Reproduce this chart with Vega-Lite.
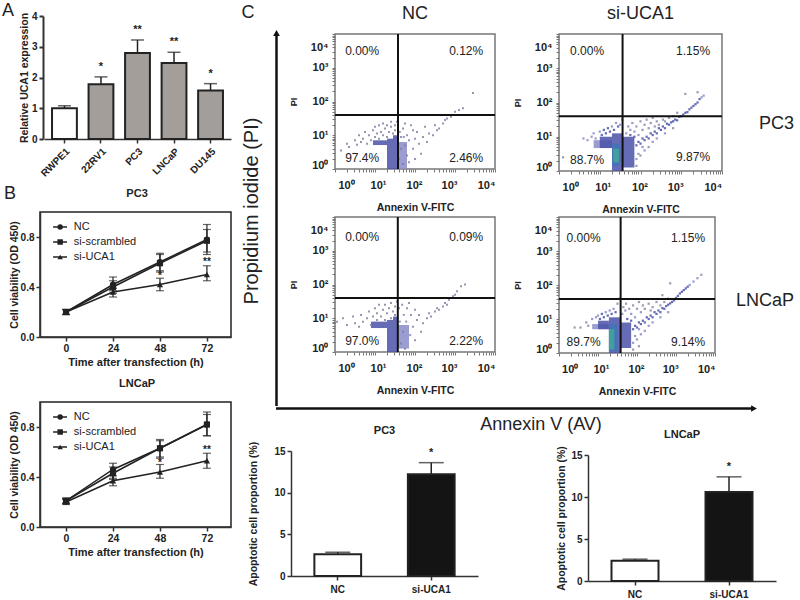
{
"$schema":"https://vega.github.io/schema/vega-lite/v6.json",
"padding":{"left":2,"top":2,"right":0,"bottom":0},
"params":[{"name":"mt","value":[0,0.3,0.48,0.6,0.7,0.78,0.85,0.9,0.95,1,1.3,1.48,1.6,1.7,1.78,1.85,1.9,1.95,2,2.3,2.48,2.6,2.7,2.78,2.85,2.9,2.95,3,3.3,3.48,3.6,3.7,3.78,3.85,3.9,3.95,4]}],
"config":{"font":"Liberation Sans","view":{"stroke":null},"title":{"font":"Liberation Sans","color":"#222"},
"axis":{"grid":false,"labelColor":"#222","titleColor":"#222","labelFontWeight":"bold","titleFontWeight":"bold","labelFontSize":10,"titleFontSize":10.5,"domainColor":"#333","tickColor":"#333","domainWidth":1.5,"tickWidth":1.5,"tickSize":4,"labelPadding":2},
"text":{"font":"Liberation Sans","color":"#222"}},
"datasets":{
"one":[{"n":1}],
"c1":[{"x":0.95,"x2":1.3,"y":0.71,"y2":0.85,"d":2},{"x":1.3,"x2":1.45,"y":0,"y2":0.9,"d":2},{"x":1.45,"x2":1.58,"y":0,"y2":1.0,"d":2},{"x":1.58,"x2":1.8,"y":0,"y2":0.8,"d":1}],
"c2":[{"x":0.9,"x2":1.3,"y":0.71,"y2":0.9,"d":2},{"x":1.3,"x2":1.45,"y":0,"y2":0.95,"d":2},{"x":1.45,"x2":1.57,"y":0,"y2":1.05,"d":2},{"x":1.57,"x2":1.85,"y":0.1,"y2":0.8,"d":1}],
"c3":[{"x":0.85,"x2":1.3,"y":0.67,"y2":0.9,"d":1},{"x":1.0,"x2":1.3,"y":0.67,"y2":1.0,"d":2},{"x":1.3,"x2":1.56,"y":0,"y2":1.1,"d":2},{"x":1.3,"x2":1.5,"y":0.15,"y2":0.8,"d":3},{"x":1.33,"x2":1.47,"y":0.25,"y2":0.65,"d":4},{"x":1.56,"x2":1.85,"y":0.1,"y2":1.0,"d":2}],
"c4":[{"x":0.85,"x2":1.28,"y":0.7,"y2":0.85,"d":1},{"x":1.0,"x2":1.28,"y":0.7,"y2":0.95,"d":2},{"x":1.28,"x2":1.58,"y":0,"y2":1.05,"d":2},{"x":1.28,"x2":1.5,"y":0.05,"y2":0.85,"d":3},{"x":1.28,"x2":1.42,"y":0.1,"y2":0.7,"d":4},{"x":1.58,"x2":1.85,"y":0.15,"y2":0.9,"d":2}],
"p1":[{"x":0.15,"y":0.55},{"x":0.3,"y":0.75},{"x":0.35,"y":0.65},{"x":0.5,"y":0.85},{"x":0.55,"y":0.72},{"x":0.6,"y":1.0},{"x":0.65,"y":0.8},{"x":0.7,"y":0.9},{"x":0.75,"y":1.1},{"x":0.8,"y":0.75},{"x":0.85,"y":1.0},{"x":0.9,"y":0.85},{"x":0.95,"y":1.15},{"x":1.0,"y":0.95},{"x":1.0,"y":1.25},{"x":1.05,"y":1.05},{"x":1.1,"y":0.9},{"x":1.1,"y":1.3},{"x":1.15,"y":1.1},{"x":1.2,"y":1.0},{"x":1.2,"y":1.35},{"x":1.25,"y":1.2},{"x":1.3,"y":0.95},{"x":1.3,"y":1.3},{"x":1.35,"y":1.1},{"x":1.4,"y":1.25},{"x":1.4,"y":1.4},{"x":1.45,"y":1.05},{"x":1.5,"y":1.3},{"x":1.5,"y":1.15},{"x":1.55,"y":1.4},{"x":1.6,"y":0.3},{"x":1.65,"y":0.6},{"x":1.65,"y":0.95},{"x":1.7,"y":1.2},{"x":1.7,"y":0.15},{"x":1.75,"y":0.7},{"x":1.75,"y":1.35},{"x":1.8,"y":0.4},{"x":1.8,"y":1.0},{"x":1.85,"y":0.85},{"x":1.85,"y":0.2},{"x":1.9,"y":1.3},{"x":1.95,"y":0.6},{"x":2.0,"y":0.9},{"x":2.0,"y":0.3},{"x":2.05,"y":1.1},{"x":2.1,"y":0.75},{"x":2.2,"y":0.95},{"x":2.25,"y":1.25},{"x":2.3,"y":0.8},{"x":2.35,"y":1.05},{"x":2.45,"y":1.0},{"x":2.5,"y":1.3},{"x":2.55,"y":1.15},{"x":2.6,"y":1.2},{"x":2.7,"y":1.35},{"x":2.75,"y":1.45},{"x":2.8,"y":1.5},{"x":2.9,"y":1.55},{"x":3.0,"y":1.7},{"x":3.1,"y":1.75},{"x":3.2,"y":1.8},{"x":3.45,"y":2.25},{"x":2.15,"y":0.45},{"x":1.72,"y":0.95},{"x":1.62,"y":1.1},{"x":1.95,"y":1.15}],
"p2":[{"x":0.05,"y":0.9},{"x":0.2,"y":1.0},{"x":0.3,"y":0.8},{"x":0.45,"y":1.05},{"x":0.5,"y":0.85},{"x":0.6,"y":0.75},{"x":0.65,"y":1.1},{"x":0.7,"y":0.9},{"x":0.8,"y":1.0},{"x":0.85,"y":1.2},{"x":0.9,"y":0.8},{"x":0.95,"y":1.05},{"x":1.0,"y":1.3},{"x":1.05,"y":0.95},{"x":1.05,"y":1.15},{"x":1.1,"y":1.4},{"x":1.15,"y":1.05},{"x":1.2,"y":1.25},{"x":1.25,"y":0.95},{"x":1.25,"y":1.4},{"x":1.3,"y":1.15},{"x":1.35,"y":1.3},{"x":1.4,"y":1.0},{"x":1.4,"y":1.45},{"x":1.45,"y":1.2},{"x":1.5,"y":1.35},{"x":1.5,"y":1.1},{"x":1.55,"y":1.5},{"x":1.6,"y":1.3},{"x":1.62,"y":0.9},{"x":1.65,"y":0.25},{"x":1.68,"y":1.4},{"x":1.7,"y":0.6},{"x":1.72,"y":1.1},{"x":1.75,"y":0.1},{"x":1.78,"y":0.9},{"x":1.8,"y":1.3},{"x":1.85,"y":1.45},{"x":1.88,"y":0.5},{"x":1.9,"y":1.1},{"x":1.95,"y":0.75},{"x":2.0,"y":1.25},{"x":2.0,"y":0.35},{"x":2.05,"y":0.95},{"x":2.1,"y":1.1},{"x":2.15,"y":0.6},{"x":2.2,"y":0.85},{"x":2.3,"y":1.0},{"x":2.35,"y":1.15},{"x":2.4,"y":1.05},{"x":2.5,"y":1.2},{"x":2.55,"y":1.3},{"x":2.6,"y":1.25},{"x":2.7,"y":1.35},{"x":2.75,"y":1.45},{"x":2.8,"y":1.4},{"x":2.85,"y":1.55},{"x":2.95,"y":1.65},{"x":3.0,"y":1.7},{"x":3.05,"y":1.8},{"x":3.15,"y":1.95},{"x":3.25,"y":2.0}],
"p3":[{"x":1.9,"y":0.75,"d":2},{"x":1.95,"y":0.85,"d":2},{"x":2.0,"y":0.8,"d":2},{"x":2.05,"y":0.95,"d":2},{"x":2.1,"y":0.9,"d":2},{"x":2.15,"y":1.0,"d":2},{"x":2.2,"y":0.95,"d":2},{"x":2.25,"y":1.1,"d":2},{"x":2.3,"y":1.05,"d":2},{"x":2.35,"y":1.15,"d":2},{"x":2.4,"y":1.1,"d":2},{"x":2.45,"y":1.25,"d":2},{"x":2.5,"y":1.2,"d":2},{"x":2.55,"y":1.3,"d":2},{"x":2.6,"y":1.25,"d":2},{"x":2.65,"y":1.38,"d":2},{"x":2.7,"y":1.35,"d":2},{"x":2.75,"y":1.42,"d":2},{"x":2.8,"y":1.45,"d":2},{"x":2.85,"y":1.5,"d":2},{"x":2.9,"y":1.48,"d":2},{"x":2.95,"y":1.58,"d":2},{"x":3.0,"y":1.6,"d":2},{"x":3.05,"y":1.65,"d":2},{"x":3.1,"y":1.7,"d":2},{"x":3.15,"y":1.72,"d":2},{"x":3.2,"y":1.8,"d":2},{"x":3.25,"y":1.85,"d":2},{"x":3.3,"y":1.9,"d":2},{"x":3.35,"y":1.95,"d":2},{"x":3.4,"y":2.0,"d":2},{"x":3.45,"y":2.1,"d":2},{"x":3.5,"y":2.15,"d":1},{"x":3.55,"y":2.2,"d":1},{"x":1.65,"y":1.1,"d":1},{"x":1.7,"y":1.3,"d":1},{"x":1.75,"y":1.2,"d":1},{"x":1.8,"y":1.4,"d":0},{"x":1.85,"y":1.15,"d":1},{"x":1.9,"y":1.3,"d":0},{"x":1.95,"y":1.05,"d":1},{"x":2.0,"y":1.45,"d":0},{"x":2.05,"y":1.2,"d":0},{"x":2.1,"y":1.35,"d":0},{"x":2.15,"y":1.5,"d":0},{"x":2.2,"y":1.25,"d":0},{"x":2.25,"y":1.4,"d":0},{"x":2.3,"y":1.55,"d":0},{"x":2.35,"y":1.3,"d":0},{"x":2.4,"y":1.45,"d":0},{"x":2.45,"y":1.35,"d":0},{"x":2.55,"y":1.5,"d":0},{"x":2.6,"y":1.45,"d":0},{"x":2.7,"y":1.55,"d":0},{"x":2.8,"y":1.6,"d":0},{"x":2.9,"y":1.7,"d":0},{"x":0.6,"y":0.95,"d":1},{"x":0.7,"y":0.9,"d":1},{"x":0.8,"y":1.0,"d":1},{"x":0.85,"y":1.1,"d":1},{"x":0.9,"y":0.95,"d":1},{"x":1.0,"y":1.15,"d":1},{"x":1.05,"y":1.05,"d":2},{"x":1.1,"y":1.2,"d":2},{"x":1.15,"y":1.1,"d":2},{"x":1.2,"y":1.25,"d":2},{"x":1.25,"y":1.15,"d":2},{"x":1.3,"y":1.3,"d":1},{"x":1.35,"y":1.2,"d":2},{"x":1.4,"y":1.4,"d":1},{"x":1.45,"y":1.3,"d":2},{"x":1.5,"y":1.35,"d":1},{"x":1.55,"y":1.5,"d":1},{"x":0.1,"y":0.4,"d":0},{"x":1.9,"y":0.35,"d":1},{"x":1.95,"y":0.5,"d":1},{"x":2.0,"y":0.45,"d":0},{"x":2.1,"y":0.6,"d":1},{"x":2.05,"y":0.7,"d":1},{"x":2.2,"y":0.7,"d":1},{"x":2.3,"y":0.85,"d":1},{"x":2.4,"y":0.95,"d":1},{"x":2.6,"y":1.1,"d":1},{"x":2.8,"y":1.25,"d":0},{"x":1.9,"y":0.15,"d":0},{"x":1.75,"y":1.05,"d":2},{"x":1.85,"y":1.0,"d":2},{"x":3.1,"y":2.25,"d":0},{"x":3.4,"y":2.3,"d":0}],
"p4":[{"x":1.9,"y":0.7,"d":2},{"x":1.95,"y":0.8,"d":2},{"x":2.0,"y":0.75,"d":2},{"x":2.05,"y":0.9,"d":2},{"x":2.1,"y":0.85,"d":2},{"x":2.15,"y":0.95,"d":2},{"x":2.2,"y":0.9,"d":2},{"x":2.25,"y":1.05,"d":2},{"x":2.3,"y":1.0,"d":2},{"x":2.35,"y":1.1,"d":2},{"x":2.4,"y":1.05,"d":2},{"x":2.45,"y":1.2,"d":2},{"x":2.5,"y":1.15,"d":2},{"x":2.55,"y":1.25,"d":2},{"x":2.6,"y":1.2,"d":2},{"x":2.65,"y":1.32,"d":2},{"x":2.7,"y":1.3,"d":2},{"x":2.75,"y":1.38,"d":2},{"x":2.8,"y":1.42,"d":2},{"x":2.85,"y":1.46,"d":2},{"x":2.9,"y":1.5,"d":2},{"x":2.95,"y":1.55,"d":2},{"x":3.0,"y":1.62,"d":2},{"x":3.05,"y":1.68,"d":2},{"x":3.1,"y":1.75,"d":2},{"x":3.15,"y":1.8,"d":2},{"x":3.2,"y":1.85,"d":2},{"x":3.25,"y":1.9,"d":2},{"x":3.3,"y":1.95,"d":2},{"x":3.35,"y":2.0,"d":1},{"x":3.45,"y":2.1,"d":1},{"x":3.55,"y":2.2,"d":1},{"x":3.65,"y":2.3,"d":0},{"x":1.62,"y":1.15,"d":1},{"x":1.65,"y":1.35,"d":0},{"x":1.7,"y":1.25,"d":1},{"x":1.72,"y":1.45,"d":0},{"x":1.8,"y":1.3,"d":0},{"x":1.85,"y":1.15,"d":1},{"x":1.9,"y":1.4,"d":0},{"x":1.95,"y":1.05,"d":1},{"x":2.0,"y":1.3,"d":0},{"x":2.05,"y":1.5,"d":0},{"x":2.1,"y":1.2,"d":0},{"x":2.15,"y":1.4,"d":0},{"x":2.2,"y":1.3,"d":0},{"x":2.3,"y":1.45,"d":0},{"x":2.35,"y":1.25,"d":0},{"x":2.4,"y":1.35,"d":0},{"x":2.5,"y":1.5,"d":0},{"x":2.6,"y":1.4,"d":0},{"x":2.7,"y":1.5,"d":0},{"x":2.65,"y":1.7,"d":0},{"x":2.8,"y":1.6,"d":0},{"x":0.4,"y":0.75,"d":0},{"x":0.55,"y":0.75,"d":0},{"x":0.7,"y":0.9,"d":1},{"x":0.75,"y":0.8,"d":1},{"x":0.85,"y":1.0,"d":1},{"x":0.95,"y":1.05,"d":1},{"x":1.0,"y":1.1,"d":1},{"x":1.05,"y":1.0,"d":2},{"x":1.1,"y":1.15,"d":2},{"x":1.15,"y":1.05,"d":2},{"x":1.2,"y":1.2,"d":1},{"x":1.25,"y":1.1,"d":2},{"x":1.3,"y":1.25,"d":1},{"x":1.35,"y":1.15,"d":2},{"x":1.4,"y":1.3,"d":1},{"x":1.45,"y":1.2,"d":2},{"x":1.5,"y":1.45,"d":0},{"x":1.55,"y":1.6,"d":0},{"x":1.9,"y":0.3,"d":1},{"x":1.95,"y":0.5,"d":1},{"x":2.0,"y":0.4,"d":0},{"x":2.1,"y":0.55,"d":1},{"x":2.05,"y":0.7,"d":1},{"x":2.2,"y":0.65,"d":1},{"x":2.3,"y":0.8,"d":1},{"x":2.4,"y":0.9,"d":1},{"x":2.6,"y":1.05,"d":1},{"x":2.8,"y":1.2,"d":0},{"x":1.9,"y":0.1,"d":0},{"x":2.05,"y":0.2,"d":0},{"x":1.75,"y":1.0,"d":2},{"x":1.85,"y":0.95,"d":2},{"x":2.85,"y":2.05,"d":0}],
"lab1":[{"t":"0.00%","x":0.68,"y":3.5},{"t":"0.12%","x":3.28,"y":3.5},{"t":"97.4%","x":0.68,"y":0.32},{"t":"2.46%","x":3.28,"y":0.33}],
"lab2":[{"t":"0.00%","x":0.69,"y":3.51},{"t":"1.15%","x":3.29,"y":3.51},{"t":"88.7%","x":0.69,"y":0.32},{"t":"9.87%","x":3.29,"y":0.42}],
"lab3":[{"t":"0.00%","x":0.68,"y":3.42},{"t":"0.09%","x":3.28,"y":3.42},{"t":"97.0%","x":0.68,"y":0.33},{"t":"2.22%","x":3.28,"y":0.33}],
"lab4":[{"t":"0.00%","x":0.63,"y":3.39},{"t":"1.15%","x":3.31,"y":3.39},{"t":"89.7%","x":0.63,"y":0.32},{"t":"9.14%","x":3.31,"y":0.32}],
"expr":[{"line":"RWPE1","v":1.0,"hi":1.08,"g":"n","star":""},{"line":"22RV1","v":1.78,"hi":2.02,"g":"c","star":"*"},{"line":"PC3","v":2.8,"hi":3.22,"g":"c","star":"**"},{"line":"LNCaP","v":2.47,"hi":2.82,"g":"c","star":"**"},{"line":"DU145","v":1.58,"hi":1.8,"g":"c","star":"*"}],
"v1":[{"s":"NC","t":0,"v":0.2,"lo":0.18,"hi":0.22},{"s":"NC","t":24,"v":0.42,"lo":0.37,"hi":0.48},{"s":"NC","t":48,"v":0.6,"lo":0.52,"hi":0.67},{"s":"NC","t":72,"v":0.78,"lo":0.66,"hi":0.9},{"s":"si-scrambled","t":0,"v":0.2,"lo":0.18,"hi":0.22},{"s":"si-scrambled","t":24,"v":0.4,"lo":0.35,"hi":0.45},{"s":"si-scrambled","t":48,"v":0.59,"lo":0.53,"hi":0.66},{"s":"si-scrambled","t":72,"v":0.77,"lo":0.68,"hi":0.86},{"s":"si-UCA1","t":0,"v":0.2,"lo":0.18,"hi":0.22},{"s":"si-UCA1","t":24,"v":0.36,"lo":0.32,"hi":0.39},{"s":"si-UCA1","t":48,"v":0.42,"lo":0.37,"hi":0.47},{"s":"si-UCA1","t":72,"v":0.5,"lo":0.45,"hi":0.57}],
"v2":[{"s":"NC","t":0,"v":0.21,"lo":0.19,"hi":0.23},{"s":"NC","t":24,"v":0.46,"lo":0.39,"hi":0.51},{"s":"NC","t":48,"v":0.63,"lo":0.56,"hi":0.7},{"s":"NC","t":72,"v":0.82,"lo":0.73,"hi":0.92},{"s":"si-scrambled","t":0,"v":0.21,"lo":0.19,"hi":0.23},{"s":"si-scrambled","t":24,"v":0.43,"lo":0.38,"hi":0.48},{"s":"si-scrambled","t":48,"v":0.63,"lo":0.55,"hi":0.69},{"s":"si-scrambled","t":72,"v":0.82,"lo":0.73,"hi":0.9},{"s":"si-UCA1","t":0,"v":0.2,"lo":0.18,"hi":0.22},{"s":"si-UCA1","t":24,"v":0.37,"lo":0.33,"hi":0.41},{"s":"si-UCA1","t":48,"v":0.44,"lo":0.39,"hi":0.5},{"s":"si-UCA1","t":72,"v":0.53,"lo":0.47,"hi":0.59}],
"leg":[{"s":"NC","a":-6.6,"b":0.5,"m":-3,"tx":4,"y":0.88},{"s":"si-scrambled","a":-6.6,"b":0.5,"m":-3,"tx":4,"y":0.76},{"s":"si-UCA1","a":-6.6,"b":0.5,"m":-3,"tx":4,"y":0.64}],
"stars1":[{"t":48,"y":0.49,"star":"*"},{"t":72,"y":0.6,"star":"**"}],
"stars2":[{"t":48,"y":0.51,"star":"*"},{"t":72,"y":0.62,"star":"**"}],
"ap1":[{"g":"NC","v":2.6,"hi":2.85,"star":""},{"g":"si-UCA1","v":12.2,"hi":13.6,"star":"*"}],
"ap2":[{"g":"NC","v":2.4,"hi":2.6,"star":""},{"g":"si-UCA1","v":10.6,"hi":12.4,"star":"*"}]
},
"resolve":{"scale":{"color":"independent"}},
"hconcat":[
{"vconcat":[
{"width":191,"height":123,"title":{"text":"A","fontSize":18,"fontWeight":"normal","anchor":"start","frame":"group","dx":-38,"offset":-9},
 "data":{"name":"expr"},
 "encoding":{"x":{"field":"line","type":"nominal","sort":null,"scale":{"range":[4,191],"paddingInner":0.32,"paddingOuter":0.22},"axis":{"title":null,"labelAngle":-45,"labelFontSize":10,"labelPadding":3}},
  "y":{"field":"v","type":"quantitative","scale":{"domain":[0,4],"nice":false},"axis":{"title":"Relative UCA1 expression","values":[0,1,2,3,4],"format":"d","offset":-3,"titlePadding":2,"domainWidth":2,"tickWidth":2}}},
 "layer":[
 {"mark":{"type":"rule","color":"#222","strokeWidth":1.5},"encoding":{"y":{"field":"v","type":"quantitative"},"y2":{"field":"hi"}}},
 {"mark":{"type":"tick","color":"#222","size":13,"thickness":1.5},"encoding":{"y":{"field":"hi","type":"quantitative"}}},
 {"mark":{"type":"bar","stroke":"#222","strokeWidth":2},"encoding":{"color":{"field":"g","type":"nominal","legend":null,"scale":{"domain":["n","c"],"range":["#ffffff","#a39e9a"]}}}},
 {"mark":{"type":"text","dy":-10,"fontWeight":"bold","fontSize":11},"encoding":{"y":{"field":"hi","type":"quantitative"},"text":{"field":"star"}}}
 ]},
{"vconcat":[
{"width":191,"height":125,"view":{"stroke":"#222","strokeWidth":1.5},
 "layer":[
 {"data":{"name":"v1"},"mark":{"type":"line","color":"#222","strokeWidth":1.5},"encoding":{"x":{"field":"t","type":"quantitative","scale":{"domain":[-13.3,84.3],"nice":false},"axis":{"title":"Time after transfection (h)","values":[0,24,48,72],"titleFontSize":11,"titlePadding":3,"labelFontSize":10.5}},"y":{"field":"v","type":"quantitative","scale":{"domain":[0,1],"nice":false},"axis":{"title":"Cell viability (OD 450)","values":[0,0.2,0.4,0.6,0.8,1],"format":".1f","titleFontSize":10.5,"titlePadding":1}},"detail":{"field":"s"}}},
 {"data":{"name":"v1"},"mark":{"type":"rule","color":"#222","strokeWidth":1.2},"encoding":{"x":{"field":"t","type":"quantitative"},"y":{"field":"lo","type":"quantitative"},"y2":{"field":"hi"}}},
 {"data":{"name":"v1"},"mark":{"type":"tick","orient":"horizontal","color":"#222","size":8,"thickness":1.2},"encoding":{"x":{"field":"t","type":"quantitative"},"y":{"field":"hi","type":"quantitative"}}},
 {"data":{"name":"v1"},"mark":{"type":"tick","orient":"horizontal","color":"#222","size":8,"thickness":1.2},"encoding":{"x":{"field":"t","type":"quantitative"},"y":{"field":"lo","type":"quantitative"}}},
 {"data":{"name":"v1"},"mark":{"type":"point","filled":true,"color":"#222","size":38,"opacity":1},"encoding":{"x":{"field":"t","type":"quantitative"},"y":{"field":"v","type":"quantitative"},"shape":{"field":"s","type":"nominal","legend":null,"scale":{"domain":["NC","si-scrambled","si-UCA1"],"range":["circle","square","triangle-up"]}}}},
 {"data":{"name":"stars1"},"mark":{"type":"text","fontWeight":"bold","fontSize":10},"encoding":{"x":{"field":"t","type":"quantitative"},"y":{"field":"y","type":"quantitative"},"text":{"field":"star"}}},
 {"data":{"name":"leg"},"mark":{"type":"rule","color":"#222","strokeWidth":1.5},"encoding":{"x":{"field":"a","type":"quantitative"},"x2":{"field":"b"},"y":{"field":"y","type":"quantitative"}}},
 {"data":{"name":"leg"},"mark":{"type":"point","filled":true,"color":"#222","size":30,"opacity":1},"encoding":{"x":{"field":"m","type":"quantitative"},"y":{"field":"y","type":"quantitative"},"shape":{"field":"s","type":"nominal","legend":null}}},
 {"data":{"name":"leg"},"mark":{"type":"text","align":"left","fontSize":11},"encoding":{"x":{"field":"tx","type":"quantitative"},"y":{"field":"y","type":"quantitative"},"text":{"field":"s"}}},
 {"data":{"name":"one"},"mark":{"type":"text","text":"B","fontSize":18,"align":"left"},"encoding":{"x":{"datum":-31.7,"type":"quantitative"},"y":{"datum":1.144,"type":"quantitative"}}},
 {"data":{"name":"one"},"mark":{"type":"text","text":"PC3","fontSize":11,"fontWeight":"bold"},"encoding":{"x":{"datum":36.3,"type":"quantitative"},"y":{"datum":1.144,"type":"quantitative"}}}
 ]},
{"width":191,"height":125,"view":{"stroke":"#222","strokeWidth":1.5},
 "layer":[
 {"data":{"name":"v2"},"mark":{"type":"line","color":"#222","strokeWidth":1.5},"encoding":{"x":{"field":"t","type":"quantitative","scale":{"domain":[-13.3,84.3],"nice":false},"axis":{"title":"Time after transfection (h)","values":[0,24,48,72],"titleFontSize":11,"titlePadding":3,"labelFontSize":10.5}},"y":{"field":"v","type":"quantitative","scale":{"domain":[0,1],"nice":false},"axis":{"title":"Cell viability (OD 450)","values":[0,0.2,0.4,0.6,0.8,1],"format":".1f","titleFontSize":10.5,"titlePadding":1}},"detail":{"field":"s"}}},
 {"data":{"name":"v2"},"mark":{"type":"rule","color":"#222","strokeWidth":1.2},"encoding":{"x":{"field":"t","type":"quantitative"},"y":{"field":"lo","type":"quantitative"},"y2":{"field":"hi"}}},
 {"data":{"name":"v2"},"mark":{"type":"tick","orient":"horizontal","color":"#222","size":8,"thickness":1.2},"encoding":{"x":{"field":"t","type":"quantitative"},"y":{"field":"hi","type":"quantitative"}}},
 {"data":{"name":"v2"},"mark":{"type":"tick","orient":"horizontal","color":"#222","size":8,"thickness":1.2},"encoding":{"x":{"field":"t","type":"quantitative"},"y":{"field":"lo","type":"quantitative"}}},
 {"data":{"name":"v2"},"mark":{"type":"point","filled":true,"color":"#222","size":38,"opacity":1},"encoding":{"x":{"field":"t","type":"quantitative"},"y":{"field":"v","type":"quantitative"},"shape":{"field":"s","type":"nominal","legend":null,"scale":{"domain":["NC","si-scrambled","si-UCA1"],"range":["circle","square","triangle-up"]}}}},
 {"data":{"name":"stars2"},"mark":{"type":"text","fontWeight":"bold","fontSize":10},"encoding":{"x":{"field":"t","type":"quantitative"},"y":{"field":"y","type":"quantitative"},"text":{"field":"star"}}},
 {"data":{"name":"leg"},"mark":{"type":"rule","color":"#222","strokeWidth":1.5},"encoding":{"x":{"field":"a","type":"quantitative"},"x2":{"field":"b"},"y":{"field":"y","type":"quantitative"}}},
 {"data":{"name":"leg"},"mark":{"type":"point","filled":true,"color":"#222","size":30,"opacity":1},"encoding":{"x":{"field":"m","type":"quantitative"},"y":{"field":"y","type":"quantitative"},"shape":{"field":"s","type":"nominal","legend":null}}},
 {"data":{"name":"leg"},"mark":{"type":"text","align":"left","fontSize":11},"encoding":{"x":{"field":"tx","type":"quantitative"},"y":{"field":"y","type":"quantitative"},"text":{"field":"s"}}},
 {"data":{"name":"one"},"mark":{"type":"text","text":"LNCaP","fontSize":11,"fontWeight":"bold"},"encoding":{"x":{"datum":36.3,"type":"quantitative"},"y":{"datum":1.144,"type":"quantitative"}}}
 ]}
],"spacing":8}
],"spacing":5},
{"resolve":{"scale":{"color":"independent"}},"vconcat":[
 {"vconcat":[
 {"vconcat":[
 {"width":1,"height":1,"data":{"name":"one"},"mark":{"type":"text","text":""},"encoding":{}},
 {"hconcat":[
  {"width":1,"height":372,"data":{"name":"one"},
   "encoding":{"x":{"datum":0.5,"type":"quantitative","scale":{"domain":[0,1]},"axis":null}},
   "layer":[
   {"mark":{"type":"rule","color":"#111","strokeWidth":2.5},"encoding":{"y":{"datum":0,"type":"quantitative","scale":{"domain":[0,372],"nice":false},"axis":null},"y2":{"datum":373}}},
   {"mark":{"type":"point","shape":"triangle-up","filled":true,"color":"#111","size":45,"opacity":1},"encoding":{"y":{"datum":373,"type":"quantitative","axis":null}}},
   {"mark":{"type":"text","text":"Propidium iodide (PI)","angle":270,"fontSize":20,"dy":-25,"baseline":"middle","align":"center"},"encoding":{"y":{"datum":195,"type":"quantitative","axis":null}}},
   {"mark":{"type":"text","text":"C","fontSize":18,"align":"left","dx":-35,"baseline":"middle"},"encoding":{"y":{"datum":393,"type":"quantitative","axis":null}}}
   ]},
  {"columns":2,"spacing":{"row":-1,"column":15},"concat":[
   {"width":160,"height":135,"view":{"stroke":"#777","strokeWidth":1.5},"title":{"text":"NC","fontSize":18,"fontWeight":"normal","offset":10},
    "resolve":{"axis":{"x":"independent","y":"independent"}},
    "layer":[
    {"data":{"name":"c1"},"mark":{"type":"rect","opacity":0.85},"encoding":{"x":{"field":"x","type":"quantitative","scale":{"domain":[0,4],"nice":false},"axis":{"orient":"bottom","values":{"expr":"mt"},"labels":false,"title":null,"domain":false,"tickSize":3,"tickWidth":1,"tickColor":"#777"}},"x2":{"field":"x2"},"y":{"field":"y","type":"quantitative","scale":{"domain":[0,4],"nice":false},"axis":{"orient":"left","values":{"expr":"mt"},"labels":false,"title":null,"domain":false,"tickSize":3,"tickWidth":1,"tickColor":"#777"}},"y2":{"field":"y2"},"color":{"field":"d","type":"ordinal","legend":null,"scale":{"domain":[0,1,2,3,4],"range":["#8c8ca8","#8a8cc8","#4a52a8","#3f73b8","#3fa898"]}}}},
    {"data":{"name":"p1"},"mark":{"type":"square","size":4,"color":"#7c7ca0","opacity":0.8},"encoding":{"x":{"field":"x","type":"quantitative","axis":null},"y":{"field":"y","type":"quantitative","axis":null}}},
    {"data":{"name":"one"},"mark":{"type":"rule","color":"#111","strokeWidth":2},"encoding":{"x":{"datum":1.575,"type":"quantitative","axis":null}}},
    {"data":{"name":"one"},"mark":{"type":"rule","color":"#111","strokeWidth":2},"encoding":{"y":{"datum":1.6,"type":"quantitative","axis":null}}},
    {"data":{"name":"lab1"},"mark":{"type":"text","fontSize":12},"encoding":{"x":{"field":"x","type":"quantitative","axis":null},"y":{"field":"y","type":"quantitative","axis":null},"text":{"field":"t"}}},
    {"data":{"name":"one"},"mark":{"type":"point","opacity":0},"encoding":{"x":{"datum":1,"type":"quantitative","axis":{"orient":"bottom","values":[0.275,1.075,1.975,2.85,3.775],"labelExpr":"datum.value<0.5?'10⁰':datum.value<1.5?'10¹':datum.value<2.5?'10²':datum.value<3.2?'10³':'10⁴'","ticks":false,"domain":false,"labelFontSize":11,"labelPadding":10,"title":"Annexin V-FITC","titlePadding":12}},"y":{"datum":1,"type":"quantitative","axis":{"orient":"left","values":[0.1,1,2,3,3.6],"labelExpr":"datum.value<0.5?'10⁰':datum.value<1.5?'10¹':datum.value<2.5?'10²':datum.value<3.2?'10³':'10⁴'","ticks":false,"domain":false,"labelFontSize":11,"labelPadding":7,"title":"PI","titleFontSize":9,"titlePadding":12}}}}
    ]},
   {"width":163,"height":137,"view":{"stroke":"#777","strokeWidth":1.5},"title":{"text":"si-UCA1","fontSize":18,"fontWeight":"normal","offset":10},
    "resolve":{"axis":{"x":"independent","y":"independent"}},
    "layer":[
    {"data":{"name":"c3"},"mark":{"type":"rect","opacity":0.85},"encoding":{"x":{"field":"x","type":"quantitative","scale":{"domain":[0,4],"nice":false},"axis":{"orient":"bottom","values":{"expr":"mt"},"labels":false,"title":null,"domain":false,"tickSize":3,"tickWidth":1,"tickColor":"#777"}},"x2":{"field":"x2"},"y":{"field":"y","type":"quantitative","scale":{"domain":[0,4],"nice":false},"axis":{"orient":"left","values":{"expr":"mt"},"labels":false,"title":null,"domain":false,"tickSize":3,"tickWidth":1,"tickColor":"#777"}},"y2":{"field":"y2"},"color":{"field":"d","type":"ordinal","legend":null,"scale":{"domain":[0,1,2,3,4],"range":["#8c8ca8","#8a8cc8","#4a52a8","#3f73b8","#3fa898"]}}}},
    {"data":{"name":"p3"},"mark":{"type":"square","size":5,"opacity":0.85},"encoding":{"x":{"field":"x","type":"quantitative","axis":null},"y":{"field":"y","type":"quantitative","axis":null},"color":{"field":"d","type":"ordinal","legend":null}}},
    {"data":{"name":"one"},"mark":{"type":"rule","color":"#111","strokeWidth":2},"encoding":{"x":{"datum":1.56,"type":"quantitative","axis":null}}},
    {"data":{"name":"one"},"mark":{"type":"rule","color":"#111","strokeWidth":2},"encoding":{"y":{"datum":1.6,"type":"quantitative","axis":null}}},
    {"data":{"name":"lab2"},"mark":{"type":"text","fontSize":12},"encoding":{"x":{"field":"x","type":"quantitative","axis":null},"y":{"field":"y","type":"quantitative","axis":null},"text":{"field":"t"}}},
    {"data":{"name":"one"},"mark":{"type":"point","opacity":0},"encoding":{"x":{"datum":1,"type":"quantitative","axis":{"orient":"bottom","values":[0.275,1.075,1.975,2.85,3.775],"labelExpr":"datum.value<0.5?'10⁰':datum.value<1.5?'10¹':datum.value<2.5?'10²':datum.value<3.2?'10³':'10⁴'","ticks":false,"domain":false,"labelFontSize":11,"labelPadding":10,"title":"Annexin V-FITC","titlePadding":12}},"y":{"datum":1,"type":"quantitative","axis":{"orient":"left","values":[0.1,1,2,3,3.6],"labelExpr":"datum.value<0.5?'10⁰':datum.value<1.5?'10¹':datum.value<2.5?'10²':datum.value<3.2?'10³':'10⁴'","ticks":false,"domain":false,"labelFontSize":11,"labelPadding":7,"title":"PI","titleFontSize":9,"titlePadding":12}}}}
    ]},
   {"width":160,"height":135,"view":{"stroke":"#777","strokeWidth":1.5},
    "resolve":{"axis":{"x":"independent","y":"independent"}},
    "layer":[
    {"data":{"name":"c2"},"mark":{"type":"rect","opacity":0.85},"encoding":{"x":{"field":"x","type":"quantitative","scale":{"domain":[0,4],"nice":false},"axis":{"orient":"bottom","values":{"expr":"mt"},"labels":false,"title":null,"domain":false,"tickSize":3,"tickWidth":1,"tickColor":"#777"}},"x2":{"field":"x2"},"y":{"field":"y","type":"quantitative","scale":{"domain":[0,4],"nice":false},"axis":{"orient":"left","values":{"expr":"mt"},"labels":false,"title":null,"domain":false,"tickSize":3,"tickWidth":1,"tickColor":"#777"}},"y2":{"field":"y2"},"color":{"field":"d","type":"ordinal","legend":null,"scale":{"domain":[0,1,2,3,4],"range":["#8c8ca8","#8a8cc8","#4a52a8","#3f73b8","#3fa898"]}}}},
    {"data":{"name":"p2"},"mark":{"type":"square","size":4,"color":"#7c7ca0","opacity":0.8},"encoding":{"x":{"field":"x","type":"quantitative","axis":null},"y":{"field":"y","type":"quantitative","axis":null}}},
    {"data":{"name":"one"},"mark":{"type":"rule","color":"#111","strokeWidth":2},"encoding":{"x":{"datum":1.57,"type":"quantitative","axis":null}}},
    {"data":{"name":"one"},"mark":{"type":"rule","color":"#111","strokeWidth":2},"encoding":{"y":{"datum":1.6,"type":"quantitative","axis":null}}},
    {"data":{"name":"lab3"},"mark":{"type":"text","fontSize":12},"encoding":{"x":{"field":"x","type":"quantitative","axis":null},"y":{"field":"y","type":"quantitative","axis":null},"text":{"field":"t"}}},
    {"data":{"name":"one"},"mark":{"type":"point","opacity":0},"encoding":{"x":{"datum":1,"type":"quantitative","axis":{"orient":"bottom","values":[0.275,1.075,1.975,2.85,3.775],"labelExpr":"datum.value<0.5?'10⁰':datum.value<1.5?'10¹':datum.value<2.5?'10²':datum.value<3.2?'10³':'10⁴'","ticks":false,"domain":false,"labelFontSize":11,"labelPadding":10,"title":"Annexin V-FITC","titlePadding":12}},"y":{"datum":1,"type":"quantitative","axis":{"orient":"left","values":[0.1,1,2,3,3.6],"labelExpr":"datum.value<0.5?'10⁰':datum.value<1.5?'10¹':datum.value<2.5?'10²':datum.value<3.2?'10³':'10⁴'","ticks":false,"domain":false,"labelFontSize":11,"labelPadding":7,"title":"PI","titleFontSize":9,"titlePadding":12}}}}
    ]},
   {"width":156,"height":136,"view":{"stroke":"#777","strokeWidth":1.5},
    "resolve":{"axis":{"x":"independent","y":"independent"}},
    "layer":[
    {"data":{"name":"c4"},"mark":{"type":"rect","opacity":0.85},"encoding":{"x":{"field":"x","type":"quantitative","scale":{"domain":[0,4],"nice":false},"axis":{"orient":"bottom","values":{"expr":"mt"},"labels":false,"title":null,"domain":false,"tickSize":3,"tickWidth":1,"tickColor":"#777"}},"x2":{"field":"x2"},"y":{"field":"y","type":"quantitative","scale":{"domain":[0,4],"nice":false},"axis":{"orient":"left","values":{"expr":"mt"},"labels":false,"title":null,"domain":false,"tickSize":3,"tickWidth":1,"tickColor":"#777"}},"y2":{"field":"y2"},"color":{"field":"d","type":"ordinal","legend":null,"scale":{"domain":[0,1,2,3,4],"range":["#8c8ca8","#8a8cc8","#4a52a8","#3f73b8","#3fa898"]}}}},
    {"data":{"name":"p4"},"mark":{"type":"square","size":5,"opacity":0.85},"encoding":{"x":{"field":"x","type":"quantitative","axis":null},"y":{"field":"y","type":"quantitative","axis":null},"color":{"field":"d","type":"ordinal","legend":null}}},
    {"data":{"name":"one"},"mark":{"type":"rule","color":"#111","strokeWidth":2},"encoding":{"x":{"datum":1.58,"type":"quantitative","axis":null}}},
    {"data":{"name":"one"},"mark":{"type":"rule","color":"#111","strokeWidth":2},"encoding":{"y":{"datum":1.59,"type":"quantitative","axis":null}}},
    {"data":{"name":"lab4"},"mark":{"type":"text","fontSize":12},"encoding":{"x":{"field":"x","type":"quantitative","axis":null},"y":{"field":"y","type":"quantitative","axis":null},"text":{"field":"t"}}},
    {"data":{"name":"one"},"mark":{"type":"point","opacity":0},"encoding":{"x":{"datum":1,"type":"quantitative","axis":{"orient":"bottom","values":[0.275,1.075,1.975,2.85,3.775],"labelExpr":"datum.value<0.5?'10⁰':datum.value<1.5?'10¹':datum.value<2.5?'10²':datum.value<3.2?'10³':'10⁴'","ticks":false,"domain":false,"labelFontSize":11,"labelPadding":10,"title":"Annexin V-FITC","titlePadding":12}},"y":{"datum":1,"type":"quantitative","axis":{"orient":"left","values":[0.1,1,2,3,3.6],"labelExpr":"datum.value<0.5?'10⁰':datum.value<1.5?'10¹':datum.value<2.5?'10²':datum.value<3.2?'10³':'10⁴'","ticks":false,"domain":false,"labelFontSize":11,"labelPadding":7,"title":"PI","titleFontSize":9,"titlePadding":12}}}}
    ]}
  ]},
  {"width":62,"height":372,
   "data":{"values":[{"t":"PC3","y":282},{"t":"LNCaP","y":105}]},
   "mark":{"type":"text","fontSize":18,"align":"right"},
   "encoding":{"x":{"datum":1,"type":"quantitative","scale":{"domain":[0,1]},"axis":null},"y":{"field":"y","type":"quantitative","scale":{"domain":[0,372],"nice":false},"axis":null},"text":{"field":"t"}}}
 ],"spacing":8}
 ],"spacing":-18},
 {"width":480,"height":1,"data":{"name":"one"},
  "encoding":{"y":{"datum":0.5,"type":"quantitative","scale":{"domain":[0,1]},"axis":null}},
  "layer":[
  {"mark":{"type":"rule","color":"#111","strokeWidth":2.5},"encoding":{"x":{"datum":0,"type":"quantitative","scale":{"domain":[0,480],"nice":false},"axis":null},"x2":{"datum":478}}},
  {"mark":{"type":"point","shape":"triangle-right","filled":true,"color":"#111","size":45,"opacity":1},"encoding":{"x":{"datum":478,"type":"quantitative","axis":null}}},
  {"mark":{"type":"text","text":"Annexin V (AV)","fontSize":18,"dy":16},"encoding":{"x":{"datum":265,"type":"quantitative","axis":null}}}
  ]}
 ],"spacing":-5},
 {"resolve":{"scale":{"color":"independent"}},"hconcat":[
  {"resolve":{"scale":{"color":"independent"}},"hconcat":[
   {"width":1,"height":125,"data":{"name":"one"},"mark":{"type":"text","text":""},"encoding":{}},
   {"width":187,"height":125,"title":{"text":"PC3","fontSize":11,"fontWeight":"bold","offset":5},
    "data":{"name":"ap1"},
    "encoding":{"x":{"field":"g","type":"nominal","sort":null,"scale":{"paddingInner":0.5,"paddingOuter":0.25},"axis":{"title":null,"labelAngle":0,"labelPadding":4}},"y":{"field":"v","type":"quantitative","scale":{"domain":[0,15],"nice":false},"axis":{"title":"Apoptotic cell proportion (%)","values":[0,5,10,15],"titlePadding":15}}},
    "layer":[
    {"mark":{"type":"rule","color":"#222","strokeWidth":1.5},"encoding":{"y":{"field":"v","type":"quantitative"},"y2":{"field":"hi"}}},
    {"mark":{"type":"tick","color":"#222","size":25,"thickness":1.5},"encoding":{"y":{"field":"hi","type":"quantitative"}}},
    {"mark":{"type":"bar","stroke":"#222","strokeWidth":2},"encoding":{"color":{"field":"g","type":"nominal","legend":null,"scale":{"domain":["NC","si-UCA1"],"range":["#ffffff","#141414"]}}}},
    {"mark":{"type":"text","dy":-10,"fontWeight":"bold","fontSize":11},"encoding":{"y":{"field":"hi","type":"quantitative"},"text":{"field":"star"}}}
    ]}
  ],"spacing":-29},
  {"width":188,"height":130,"title":{"text":"LNCaP","fontSize":11,"fontWeight":"bold","offset":6},
   "data":{"name":"ap2"},
   "encoding":{"x":{"field":"g","type":"nominal","sort":null,"scale":{"paddingInner":0.5,"paddingOuter":0.25},"axis":{"title":null,"labelAngle":0,"labelPadding":4}},"y":{"field":"v","type":"quantitative","scale":{"domain":[0,15],"nice":false,"range":[130,4]},"axis":{"title":"Apoptotic cell proportion (%)","values":[0,5,10,15],"titlePadding":4}}},
   "layer":[
   {"mark":{"type":"rule","color":"#222","strokeWidth":1.5},"encoding":{"y":{"field":"v","type":"quantitative"},"y2":{"field":"hi"}}},
   {"mark":{"type":"tick","color":"#222","size":25,"thickness":1.5},"encoding":{"y":{"field":"hi","type":"quantitative"}}},
   {"mark":{"type":"bar","stroke":"#222","strokeWidth":2},"encoding":{"color":{"field":"g","type":"nominal","legend":null,"scale":{"domain":["NC","si-UCA1"],"range":["#ffffff","#141414"]}}}},
   {"mark":{"type":"text","dy":-10,"fontWeight":"bold","fontSize":11},"encoding":{"y":{"field":"hi","type":"quantitative"},"text":{"field":"star"}}}
   ]}
 ],"spacing":78}
],"spacing":-9}
],"spacing":9
}
